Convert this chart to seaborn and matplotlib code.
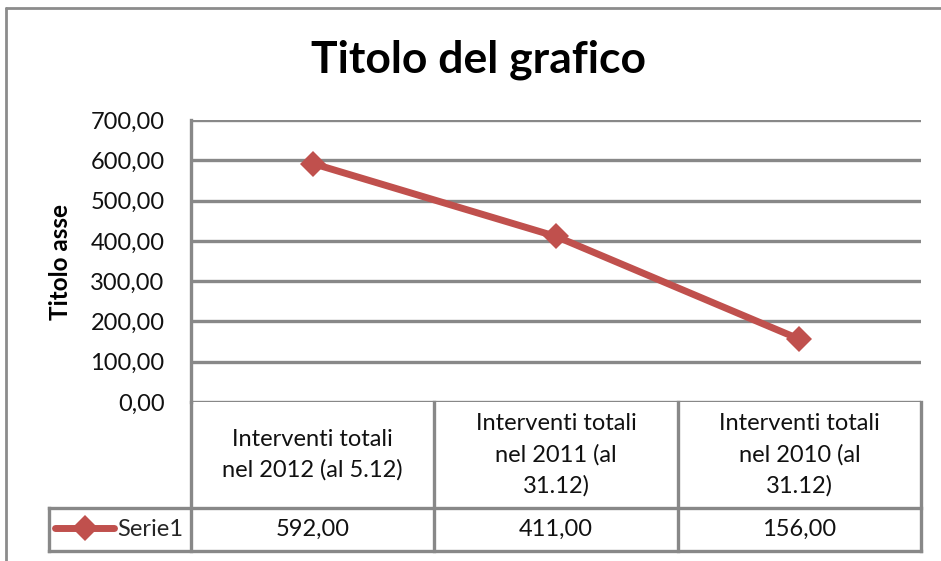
import matplotlib
matplotlib.use("Agg")
import matplotlib.pyplot as plt
import seaborn as sns
import pandas as pd
from matplotlib.lines import Line2D

# data
categories = ["Interventi totali\nnel 2012 (al 5.12)",
              "Interventi totali\nnel 2011 (al\n31.12)",
              "Interventi totali\nnel 2010 (al\n31.12)"]
values = [592, 411, 156]
series_name = "Serie1"
yticks = [0, 100, 200, 300, 400, 500, 600, 700]

RED = "#C0504D"
GRAY = "#888888"

sns.set_theme(style="white")
plt.rcParams['font.family'] = ['Lato', 'DejaVu Sans']

W, H = 941, 561
fig = plt.figure(figsize=(W / 100, H / 100), dpi=100)
fig.patch.set_facecolor("white")

# plot area in pixels
x0, x1, ytop, ybot = 191, 921, 120, 402
ax = fig.add_axes([x0 / W, (H - ybot) / H, (x1 - x0) / W, (ybot - ytop) / H])

df = pd.DataFrame({"cat": range(len(values)), "val": values})
sns.lineplot(data=df, x="cat", y="val", ax=ax, color=RED, lw=5,
             marker="D", markersize=13, markeredgewidth=0, label=series_name)

ax.set_xlim(-0.5, len(values) - 0.5)
ax.set_ylim(yticks[0], yticks[-1])
ax.set_yticks(yticks)
ax.set_yticklabels([f"{v:.2f}".replace(".", ",") for v in yticks], fontsize=17)
ax.set_xticks([])
ax.set_xlabel("")
ax.set_ylabel("")
ax.tick_params(axis="y", length=0, pad=19, labelcolor="#111111")
ax.yaxis.grid(True, color=GRAY, lw=2.4)
ax.set_axisbelow(True)
for s in ["top", "right", "bottom"]:
    ax.spines[s].set_visible(False)
ax.spines["left"].set_color(GRAY)
ax.spines["left"].set_linewidth(2.4)

# data table under the plot (axes fraction coords)
ph = ybot - ytop
pw = x1 - x0
hdr_bot = -(508 - ybot) / ph
row_bot = -(551 - ybot) / ph
leg_left = (49 - x0) / pw
n = len(values)
kw = dict(color=GRAY, lw=2.4, transform=ax.transAxes, clip_on=False,
          solid_capstyle="projecting")
for i in range(n + 1):
    ax.add_line(Line2D([i / n, i / n], [0, row_bot], **kw))
ax.add_line(Line2D([leg_left, 1], [hdr_bot, hdr_bot], **kw))
ax.add_line(Line2D([leg_left, 1], [row_bot, row_bot], **kw))
ax.add_line(Line2D([leg_left, leg_left], [hdr_bot, row_bot], **kw))

for i, (c, v) in enumerate(zip(categories, values)):
    xc = (i + 0.5) / n
    ax.text(xc, (0 + hdr_bot) / 2, c, transform=ax.transAxes, ha="center",
            va="center", fontsize=17, linespacing=1.55, color="#111111")
    ax.text(xc, (hdr_bot + row_bot) / 2, f"{v:.2f}".replace(".", ","),
            transform=ax.transAxes, ha="center", va="center", fontsize=17,
            color="#111111")

ax.legend(loc="center left", bbox_to_anchor=((55 - x0) / pw, (hdr_bot + row_bot) / 2),
          frameon=False, fontsize=17, handlelength=2.5, handletextpad=0.15,
          borderpad=0, borderaxespad=0)

# titles
fig.text(478 / W, 1 - 60 / H, "Titolo del grafico", ha="center", va="center",
         fontsize=32, fontweight="bold", color="black")
fig.text(60 / W, 1 - 262 / H, "Titolo asse", ha="center", va="center",
         rotation=90, fontsize=17.5, fontweight="bold", color="black")

# outer chart border
bk = dict(color="#8c8c8c", lw=2, transform=fig.transFigure)
fig.add_artist(Line2D([6 / W, 6 / W], [0, 1 - 8 / H], **bk))
fig.add_artist(Line2D([6 / W, 1], [1 - 8 / H, 1 - 8 / H], **bk))

fig.savefig("out.png", dpi=100, facecolor="white")
